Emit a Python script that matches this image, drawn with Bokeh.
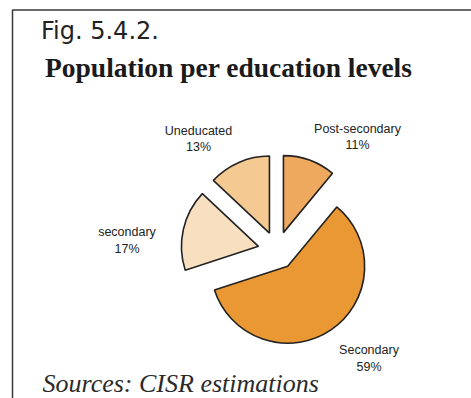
import math

from bokeh.core.properties import value
from bokeh.embed import file_html
from bokeh.models import ColumnDataSource
from bokeh.plotting import figure
from bokeh.resources import INLINE

# Share of population per education level (percent), clockwise from 12 o'clock
categories = ["Post-secondary", "Secondary", "secondary", "Uneducated"]
shares = [11, 59, 17, 13]
colors = ["#EFA95F", "#E99833", "#F8DFC0", "#F5C992"]

# Canvas size in pixels; data units equal pixels, y measured upward
W, H = 471, 398

# Pie layout
cx, cy = 276.5, H - 250
radius = 77
explode = 19

# Label anchors (centre x, baseline of first line in page pixels)
label_x = [357, 368.5, 126.5, 198]
label_top = [132.7, 354.3, 236.3, 134.7]
line_gap = 16.5

# the SVG backend draws "alphabetic" text a little low; lift by a share of the size
LIFT = 0.36


def base_y(px_from_top, size):
    return H - px_from_top + LIFT * size


p = figure(width=W, height=H, x_range=(0, W), y_range=(0, H),
           x_axis_type=None, y_axis_type=None,
           toolbar_location=None, output_backend="svg", min_border=0)
p.grid.visible = False
p.outline_line_color = None
p.background_fill_color = "white"
p.border_fill_color = "white"

# Frame around the figure (top and left edges visible)
p.line(x=[12, 12, W + 10], y=[-10, H - 9.5, H - 9.5], line_color="#3a3a3a", line_width=1.5)

# Wedges: clockwise from the top, every slice pulled out from the centre
total = float(sum(shares))
xs, ys, starts, ends = [], [], [], []
acc = 0.0
for s in shares:
    a0 = acc / total * 2 * math.pi
    a1 = (acc + s) / total * 2 * math.pi
    mid = (a0 + a1) / 2
    xs.append(cx + explode * math.sin(mid))
    ys.append(cy + explode * math.cos(mid))
    # convert clockwise-from-top to Bokeh's anticlockwise-from-east
    starts.append(math.pi / 2 - a1)
    ends.append(math.pi / 2 - a0)
    acc += s

src = ColumnDataSource(dict(x=xs, y=ys, start=starts, end=ends, color=colors, name=categories))
p.wedge(x="x", y="y", radius=radius, start_angle="start", end_angle="end",
        direction="anticlock", fill_color="color", line_color="#222222",
        line_width=1.6, source=src)

# Slice labels: name on one line, share on the next
LABEL_SIZE = 12.5
lab = ColumnDataSource(dict(
    x=label_x + label_x,
    y=[base_y(t, LABEL_SIZE) for t in label_top]
      + [base_y(t + line_gap, LABEL_SIZE) for t in label_top],
    text=categories + [f"{s}%" for s in shares],
))
p.text(x="x", y="y", text="text", source=lab, text_align="center",
       text_baseline="alphabetic", text_font=value("Liberation Sans"),
       text_font_size=f"{LABEL_SIZE}px", text_color="#222222")

# Headings and source note
p.text(x=[40.5], y=[base_y(38.7, 24)], text=["Fig. 5.4.2."], text_font=value("DejaVu Sans"),
       text_font_size="24px", text_color="#222222", text_baseline="alphabetic")
p.text(x=[44.5], y=[base_y(77.3, 27.5)], text=["Population per education levels"],
       text_font=value("Liberation Serif"), text_font_style="bold",
       text_font_size="27.5px", text_color="#1a1a1a", text_baseline="alphabetic")
p.text(x=[42], y=[base_y(392.7, 26)], text=["Sources: CISR estimations"],
       text_font=value("Liberation Serif"), text_font_style="italic",
       text_font_size="26px", text_color="#2a2a2a", text_baseline="alphabetic")

open("out.html", "w").write(file_html(p, INLINE))
